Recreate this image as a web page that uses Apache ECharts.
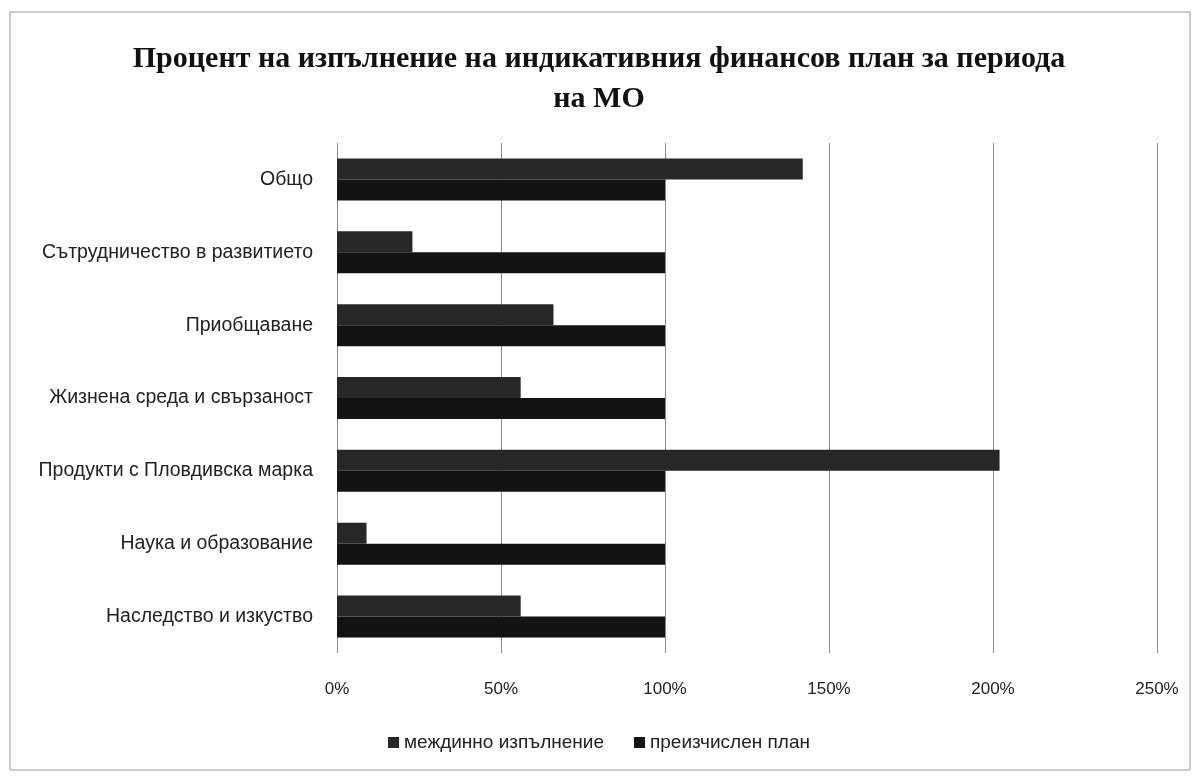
<!DOCTYPE html>
<html>
<head>
<meta charset="utf-8">
<script src="https://cdn.jsdelivr.net/npm/echarts@6/dist/echarts.min.js"></script>
<style>
  html, body { margin: 0; padding: 0; background: #ffffff; }
  #chart { width: 1198px; height: 779px; }
</style>
</head>
<body>
<div id="chart"></div>
<script>
// Categories (bottom to top, as drawn on the category axis)
const categories = [
  'Наследство и изкуство',
  'Наука и образование',
  'Продукти с Пловдивска марка',
  'Жизнена среда и свързаност',
  'Приобщаване',
  'Сътрудничество в развитието',
  'Общо'
];
// Interim execution, % of plan
const interimValues = [56, 9, 202, 56, 66, 23, 142];
// Recalculated plan, %
const planValues = [100, 100, 100, 100, 100, 100, 100];
const seriesNames = ['междинно изпълнение', 'преизчислен план'];
const titleText = 'Процент на изпълнение на индикативния финансов план за периода\nна МО';

const chart = echarts.init(document.getElementById('chart'));
const labelFont = 'Liberation Sans';

chart.setOption({
  animation: false,
  backgroundColor: '#ffffff',
  graphic: [{
    type: 'rect',
    shape: { x: 10, y: 12, width: 1180, height: 758 },
    style: { fill: 'none', stroke: '#9a9a9a', lineWidth: 1 }
  }],
  title: {
    text: titleText,
    left: 'center',
    top: 34,
    textStyle: {
      fontFamily: 'Liberation Serif',
      fontWeight: 'bold',
      fontSize: 30,
      lineHeight: 40,
      color: '#111'
    }
  },
  legend: {
    bottom: 22,
    left: 'center',
    itemWidth: 11,
    itemHeight: 11,
    itemGap: 30,
    icon: 'rect',
    textStyle: { fontFamily: labelFont, fontSize: 19, color: '#222' },
    data: seriesNames
  },
  grid: { left: 337, right: 41, top: 143, bottom: 126, containLabel: false },
  xAxis: {
    type: 'value',
    min: 0,
    max: 250,
    interval: 50,
    axisLine: { show: false },
    axisTick: { show: false },
    axisLabel: {
      formatter: v => v + '%',
      margin: 28,
      fontFamily: labelFont,
      fontSize: 17,
      color: '#222'
    },
    splitLine: { show: true, lineStyle: { color: '#8a8a8a', width: 1 } }
  },
  yAxis: {
    type: 'category',
    data: categories,
    axisLine: { show: false },
    axisTick: { show: false },
    axisLabel: {
      margin: 24,
      fontFamily: labelFont,
      fontSize: 19.5,
      color: '#222'
    }
  },
  series: [
    {
      name: seriesNames[0],
      type: 'bar',
      data: interimValues,
      barWidth: 21,
      barGap: '0%',
      itemStyle: { color: '#272727' }
    },
    {
      name: seriesNames[1],
      type: 'bar',
      data: planValues,
      barWidth: 21,
      barGap: '0%',
      itemStyle: { color: '#131313' }
    }
  ]
});
</script>
</body>
</html>
